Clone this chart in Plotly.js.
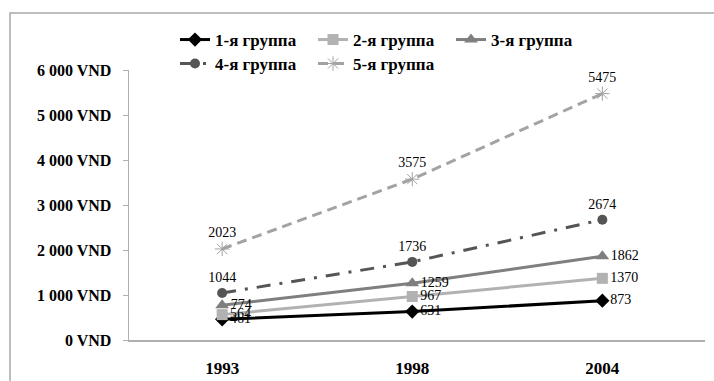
<!DOCTYPE html>
<html>
<head>
<meta charset="utf-8">
<script src="https://cdn.plot.ly/plotly-3.0.1.min.js"></script>
<style>
html,body{margin:0;padding:0;background:#fff;}
#chart{width:714px;height:381px;}
</style>
</head>
<body>
<div id="chart"></div>
<script>
const years = ["1993", "1998", "2004"];
const groupNames = ["1-я группа", "2-я группа", "3-я группа", "4-я группа", "5-я группа"];
const group1 = [461, 631, 873];
const group2 = [564, 967, 1370];
const group3 = [774, 1259, 1862];
const group4 = [1044, 1736, 2674];
const group5 = [2023, 3575, 5475];
const yTickVals = [0, 1000, 2000, 3000, 4000, 5000, 6000];
const yTickText = ["0 VND", "1 000 VND", "2 000 VND", "3 000 VND", "4 000 VND", "5 000 VND", "6 000 VND"];

const labelFont = {family: "Liberation Serif", size: 14, color: "#000"};

function tr(name, vals, color, dash, symbol, msize, textpos, legend, mline) {
  const m = {symbol: symbol, size: msize, color: color};
  if (mline) m.line = mline;
  return {
    type: "scatter", mode: "lines+markers+text",
    x: years, y: vals, name: name,
    text: vals.map(String), textposition: textpos, textfont: labelFont,
    line: {color: color, width: 3, dash: dash},
    marker: m, legend: legend, cliponaxis: false
  };
}

const data = [
  tr(groupNames[0], group1, "#000000", "solid", "diamond", 11, "middle right", "legend"),
  tr(groupNames[1], group2, "#b2b2b2", "solid", "square", 11, "middle right", "legend"),
  tr(groupNames[2], group3, "#7f7f7f", "solid", "triangle-up", 12, "middle right", "legend"),
  tr(groupNames[3], group4, "#555555", "14px,9px,3px,9px", "circle", 10, "top center", "legend2"),
  tr(groupNames[4], group5, "#a3a3a3", "10px,6px", "asterisk-open", 12, "top center", "legend2", {color: "#b8b8b8", width: 1})
];

const px = v => (v - 129) / 576;
const py = v => (340 - v) / 270;

const legendFont = {family: "Liberation Serif", size: 17, color: "#000", weight: "bold"};

const layout = {
  width: 714, height: 381,
  margin: {l: 129, r: 9, t: 70, b: 41},
  paper_bgcolor: "#fff", plot_bgcolor: "#fff",
  showlegend: true,
  xaxis: {
    type: "category", range: [-0.49, 2.54],
    showgrid: false, zeroline: false,
    showline: true, linecolor: "#b0b0b0", linewidth: 1.5,
    ticks: "", ticklabelstandoff: 12,
    tickfont: {family: "Liberation Serif", size: 17, color: "#000", weight: "bold"}
  },
  yaxis: {
    range: [0, 6000], showgrid: false, zeroline: false,
    showline: true, linecolor: "#b0b0b0", linewidth: 1.5,
    ticks: "outside", ticklen: 5, tickcolor: "#b0b0b0",
    tickvals: yTickVals, ticktext: yTickText, ticklabelstandoff: 8,
    tickfont: {family: "Liberation Serif", size: 16, color: "#000", weight: "bold"}
  },
  legend: {
    orientation: "h", x: px(175), y: py(22), xanchor: "left", yanchor: "top",
    font: legendFont, entrywidth: 93, entrywidthmode: "pixels",
    bgcolor: "rgba(0,0,0,0)", itemclick: false
  },
  legend2: {
    orientation: "h", x: px(175), y: py(46), xanchor: "left", yanchor: "top",
    font: legendFont, entrywidth: 93, entrywidthmode: "pixels",
    bgcolor: "rgba(0,0,0,0)", itemclick: false
  },
  shapes: [{
    type: "rect", xref: "paper", yref: "paper",
    x0: px(10), x1: px(760), y0: py(420), y1: py(13),
    line: {color: "#a8a8a8", width: 1.5}, fillcolor: "rgba(0,0,0,0)", layer: "below"
  }]
};

Plotly.newPlot("chart", data, layout, {displayModeBar: false, staticPlot: true});
</script>
</body>
</html>
